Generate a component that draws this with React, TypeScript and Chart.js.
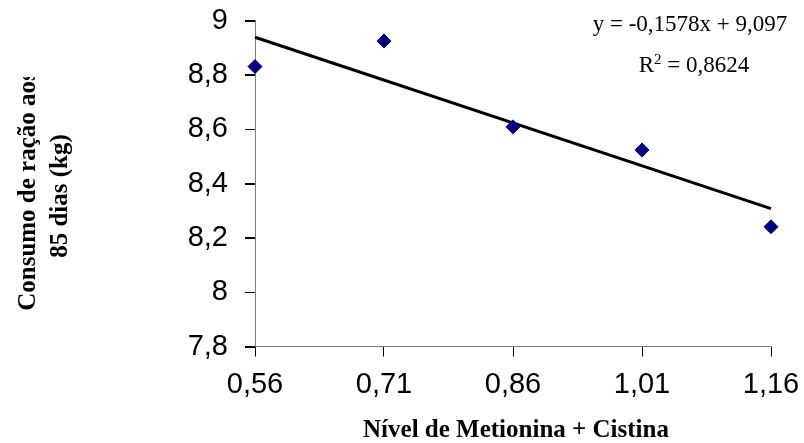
import React, { useEffect, useRef } from "react";
import { Chart, registerables } from "chart.js";

Chart.register(...registerables);

const xLevels = [0.56, 0.71, 0.86, 1.01, 1.16];
const feedIntake = [8.831, 8.925, 8.609, 8.524, 8.241];
const trendX = [0.56, 1.16];
const trendY = [8.939, 8.308];
const xTicks = [0.56, 0.71, 0.86, 1.01, 1.16];
const yTicks = [7.8, 8, 8.2, 8.4, 8.6, 8.8, 9];
const yTitleLines = ["Consumo de ração aos", "85 dias (kg)"];
const xTitle = "Nível de Metionina + Cistina";
const eqLine1 = "y = -0,1578x + 9,097";
const eqR2 = " = 0,8624";

const fmt = (v: number) => String(Math.round(v * 100) / 100).replace(".", ",");

const tickMarkPlugin = {
  id: "yTickMarks",
  afterDraw(chart: any) {
    const ctx = chart.ctx as CanvasRenderingContext2D;
    const ys = chart.scales.y;
    ctx.save();
    ctx.strokeStyle = "#000";
    ctx.lineWidth = 1;
    ctx.beginPath();
    yTicks.forEach((v) => {
      const py = Math.round(ys.getPixelForValue(v)) + 0.5;
      ctx.moveTo(ys.right - 10, py);
      ctx.lineTo(ys.right, py);
    });
    ctx.stroke();
    ctx.restore();
  },
};

const textPlugin = {
  id: "texts",
  afterDraw(chart: any) {
    const ctx = chart.ctx as CanvasRenderingContext2D;
    ctx.save();
    ctx.fillStyle = "#000";
    ctx.save();
    ctx.beginPath();
    ctx.rect(0, 77, 200, 443);
    ctx.clip();
    ctx.font = "bold 25px 'Liberation Serif'";
    ctx.textAlign = "center";
    ctx.textBaseline = "alphabetic";
    const baseX = [35, 67];
    const cy = [191, 196];
    yTitleLines.forEach((t, i) => {
      ctx.save();
      ctx.translate(baseX[i], cy[i]);
      ctx.rotate(-Math.PI / 2);
      ctx.fillText(t, 0, 0);
      ctx.restore();
    });
    ctx.restore();
    ctx.font = "bold 25px 'Liberation Serif'";
    ctx.textAlign = "center";
    ctx.textBaseline = "alphabetic";
    ctx.fillText(xTitle, 516, 437);
    ctx.font = "23px 'Liberation Serif'";
    ctx.fillText(eqLine1, 690, 31);
    const wR = ctx.measureText("R").width;
    const wRest = ctx.measureText(eqR2).width;
    ctx.font = "15px 'Liberation Serif'";
    const w2 = ctx.measureText("2").width;
    const total = wR + w2 + wRest;
    const x0 = 694 - total / 2;
    ctx.textAlign = "left";
    ctx.font = "23px 'Liberation Serif'";
    ctx.fillText("R", x0, 72);
    ctx.font = "15px 'Liberation Serif'";
    ctx.fillText("2", x0 + wR, 64);
    ctx.font = "23px 'Liberation Serif'";
    ctx.fillText(eqR2, x0 + wR + w2, 72);
    ctx.restore();
  },
};

export default function App() {
  const ref = useRef<HTMLCanvasElement | null>(null);
  useEffect(() => {
    if (!ref.current) return;
    const chart = new Chart(ref.current, {
      type: "scatter",
      data: {
        datasets: [
          {
            type: "scatter",
            data: xLevels.map((x, i) => ({ x, y: feedIntake[i] })),
            pointStyle: "rectRot",
            pointRadius: 7,
            pointBackgroundColor: "#000080",
            pointBorderColor: "#000080",
            pointBorderWidth: 1,
            clip: false,
            order: 1,
          } as any,
          {
            type: "line",
            data: trendX.map((x, i) => ({ x, y: trendY[i] })),
            borderColor: "#000",
            borderWidth: 3,
            pointRadius: 0,
            fill: false,
            clip: false,
            order: 2,
          } as any,
        ],
      },
      options: {
        animation: false,
        responsive: false,
        maintainAspectRatio: false,
        layout: { padding: { left: 0, right: 33, top: 20.7, bottom: 0 } },
        plugins: { legend: { display: false }, tooltip: { enabled: false }, title: { display: false } },
        scales: {
          x: {
            type: "linear",
            min: 0.56,
            max: 1.16,
            afterBuildTicks: (s: any) => {
              s.ticks = xTicks.map((v) => ({ value: v }));
            },
            afterFit: (s: any) => {
              s.height = 96.5;
              s.paddingLeft = 0;
              s.paddingRight = 0;
              s.paddingTop = 0;
              s.paddingBottom = 0;
            },
            ticks: {
              callback: (v: any) => fmt(Number(v)),
              font: { family: "'Liberation Sans'", size: 29 },
              color: "#000",
              padding: 11,
              maxRotation: 0,
              autoSkip: false,
            },
            grid: { drawOnChartArea: false, drawTicks: true, tickLength: 10, lineWidth: 1, color: "#000", tickColor: "#000", tickWidth: 1 },
            border: { color: "#808080", width: 1 },
          },
          y: {
            type: "linear",
            min: 7.8,
            max: 9,
            afterBuildTicks: (s: any) => {
              s.ticks = yTicks.map((v) => ({ value: v }));
            },
            afterFit: (s: any) => {
              s.width = 255;
              s.paddingLeft = 0;
              s.paddingRight = 0;
              s.paddingTop = 0;
              s.paddingBottom = 0;
            },
            ticks: {
              callback: (v: any) => fmt(Number(v)),
              font: { family: "'Liberation Sans'", size: 29 },
              color: "#000",
              padding: 17,
              autoSkip: false,
            },
            grid: { drawOnChartArea: false, drawTicks: true, tickLength: 10, lineWidth: 1, color: "#000", tickColor: "#000", tickWidth: 1 },
            border: { color: "#808080", width: 1 },
          },
        },
      },
      plugins: [tickMarkPlugin, textPlugin],
    });
    return () => chart.destroy();
  }, []);
  return (
    <div style={{ position: "fixed", left: 0, top: 0, width: 804, height: 443, background: "#fff" }}>
      <canvas ref={ref} width={804} height={443} style={{ display: "block", width: 804, height: 443 }} />
    </div>
  );
}
